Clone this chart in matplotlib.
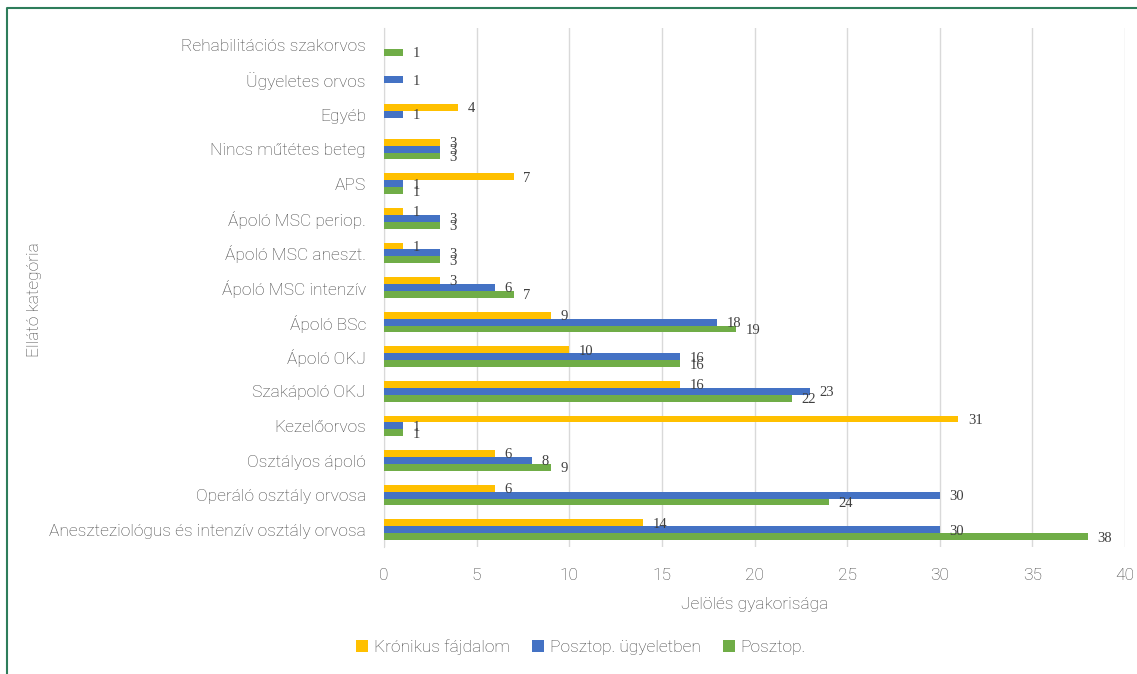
import numpy as np
import matplotlib.pyplot as plt
from matplotlib.lines import Line2D

categories = ['Rehabilitációs szakorvos', 'Ügyeletes orvos', 'Egyéb', 'Nincs műtétes beteg',
              'APS', 'Ápoló MSC periop.', 'Ápoló MSC aneszt.', 'Ápoló MSC intenzív',
              'Ápoló BSc', 'Ápoló OKJ', 'Szakápoló OKJ', 'Kezelőorvos', 'Osztályos ápoló',
              'Operáló osztály orvosa', 'Aneszteziológus és intenzív osztály orvosa']
kronikus = [0, 0, 4, 3, 7, 1, 1, 3, 9, 10, 16, 31, 6, 6, 14]
posztop_ugy = [0, 1, 1, 3, 1, 3, 3, 6, 18, 16, 23, 1, 8, 30, 30]
posztop = [1, 0, 0, 3, 1, 3, 3, 7, 19, 16, 22, 1, 9, 24, 38]
series_names = ['Krónikus fájdalom', 'Posztop. ügyeletben', 'Posztop.']
colors = ['#FFC000', '#4472C4', '#70AD47']

plt.rcParams['font.family'] = ['Roboto', 'DejaVu Sans']
plt.rcParams['font.weight'] = 'light'
txt = '#444444'

fig = plt.figure(figsize=(11.37, 6.74), dpi=100)
ax = fig.add_axes([384/1137, 1-547/674, (1125-384)/1137, (547-28)/674])

y = np.arange(len(categories))
h = 0.2
data = [kronikus, posztop_ugy, posztop]
for k in range(3):
    pos = y + (k-1)*h
    ax.barh(pos, data[k], height=h, color=colors[k], label=series_names[k], zorder=3)
    for p, v in zip(pos, data[k]):
        if v > 0:
            ax.annotate(str(v), (v, p), xytext=(7, -1), textcoords='offset points',
                        ha='left', va='center', fontsize=10.5, color='#404040',
                        family='Liberation Serif', weight='normal', zorder=4)

ax.set_xlim(0, 40)
ax.set_ylim(len(categories)-0.5, -0.5)
ax.set_xticks(np.arange(0, 41, 5))
ax.set_yticks(y)
ax.set_yticklabels(categories)
ax.grid(axis='x', color='#d9d9d9', linewidth=1, zorder=0)
for s in ['top', 'right', 'bottom']:
    ax.spines[s].set_visible(False)
ax.spines['left'].set_color('#d9d9d9')
ax.tick_params(axis='both', length=0, labelsize=12.5, colors=txt)
ax.tick_params(axis='y', pad=13)
ax.tick_params(axis='x', pad=15)
ax.set_xlabel('Jelölés gyakorisága', fontsize=12.5, color=txt, labelpad=10, weight='light')
fig.text(35/1137, 1-300/674, 'Ellátó kategória', rotation=90, ha='center', va='center',
         fontsize=12.5, color=txt)

fig.legend(loc='center', bbox_to_anchor=(581/1137, 1-647/674), ncol=3, frameon=False,
           handlelength=0.7, handleheight=0.7, handletextpad=0.3, columnspacing=1.3,
           prop={'size': 12.5, 'weight': 'light'}, labelcolor=txt)

fig.add_artist(Line2D([7/1137, 7/1137, 1], [0, 1-8/674, 1-8/674], transform=fig.transFigure,
                      color='#2E7D5B', linewidth=1.5))

fig.savefig('out.png', dpi=100)
